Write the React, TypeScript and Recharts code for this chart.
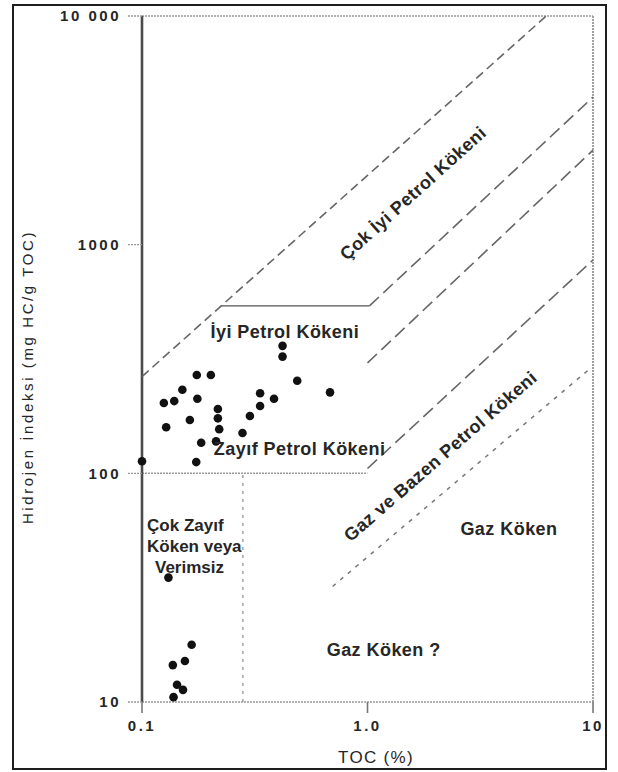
import React from 'react';
import { ScatterChart, Scatter, XAxis, YAxis, ReferenceLine } from 'recharts';

// Sample values: TOC (%) and Hydrogen Index (mg HC/g TOC)
const tocValues = [0.42, 0.42, 0.175, 0.202, 0.488, 0.151, 0.682, 0.334, 0.125, 0.139, 0.176, 0.385, 0.334, 0.217, 0.217, 0.163, 0.301, 0.128, 0.22, 0.279, 0.183, 0.213, 0.1, 0.174, 0.131, 0.166, 0.137, 0.155, 0.143, 0.152, 0.138];
const hiValues = [361, 324, 269, 269, 254, 232, 226, 224, 203, 207, 212, 212, 197, 191, 174, 171, 178, 159, 156, 150, 136, 138, 113, 112, 35, 17.8, 14.5, 15.1, 11.9, 11.3, 10.5];

const xTicks = [0.1, 1, 10];
const xTickLabels = ['0.1', '1.0', '10'];
const yTicks = [10, 100, 1000, 10000];
const yTickLabels = ['10', '100', '1000', '10 000'];

// Boundary lines (TOC, HI)
const veryGoodOilLine = [{ x: 0.1, y: 265 }, { x: 6.2, y: 10000 }];
const goodOilCap = [{ x: 0.225, y: 540 }, { x: 1.02, y: 540 }];
const upperOilLine = [{ x: 1.02, y: 540 }, { x: 10, y: 4420 }];
const oilLine = [{ x: 1.0, y: 304 }, { x: 10, y: 2590 }];
const oilGasLine = [{ x: 1.0, y: 105 }, { x: 10, y: 857 }];
const gasLine = [{ x: 0.7, y: 32 }, { x: 9.9, y: 292 }];
const poorLimitHI = 100;
const poorLimitToc = [0.1, 1.0];
const barrenToc = 0.28;

// Region labels
const labelTexts = ['Çok İyi Petrol Kökeni', 'İyi Petrol Kökeni', 'Zayıf Petrol Kökeni', 'Gaz ve Bazen Petrol Kökeni', 'Gaz Köken', 'Gaz Köken ?', 'Çok Zayıf', 'Köken veya', 'Verimsiz'];
const labelToc = [1.59, 0.43, 0.5, 2.1, 4.24, 1.18, 0.1053, 0.1053, 0.1142];
const labelHI = [1683, 415, 128, 119, 57.4, 16.9, 59.5, 48.2, 39.0];
const labelAngle = [-42, 0, 0, -41, 0, 0, 0, 0, 0];
const labelAnchor = ['middle', 'middle', 'middle', 'middle', 'middle', 'middle', 'start', 'start', 'start'];

const points = tocValues.map((t, i) => ({ x: t, y: hiValues[i] }));
const labels = labelTexts.map((text, i) => ({ x: labelToc[i], y: labelHI[i], text, angle: labelAngle[i], anchor: labelAnchor[i] }));

const FONT = '"Liberation Sans", Arial, sans-serif';
const TXT = '#262626';

const Dot = (p: any) => <circle cx={p.cx} cy={p.cy} r={4.3} fill="#111" />;
const NoShape = () => <g />;
const LabelShape = (p: any) => {
  const { cx, cy, payload } = p;
  return (
    <text
      x={cx}
      y={cy}
      dy="0.36em"
      textAnchor={payload.anchor}
      transform={payload.angle ? `rotate(${payload.angle} ${cx} ${cy})` : undefined}
      fontFamily={FONT}
      fontWeight="bold"
      fontSize={payload.anchor === 'start' ? 17 : 18}
      letterSpacing={payload.anchor === 'start' ? 0 : 0.45}
      fill={TXT}
    >
      {payload.text}
    </text>
  );
};

const lineStyle = (dash: string, color = '#666', w = 1.6) => ({ stroke: color, strokeWidth: w, strokeDasharray: dash });

export default function App() {
  return (
    <div style={{ position: 'absolute', left: 0, top: 0, width: 618, height: 772, background: '#fff' }}>
      <div style={{ position: 'absolute', left: 12, top: 4, width: 595, height: 766, border: '2px solid #1e1e1e', boxSizing: 'border-box' }} />
      <div style={{ position: 'absolute', left: 0, top: 0 }}>
        <ScatterChart width={618} height={772} margin={{ top: 16, right: 25, left: 0, bottom: 40 }}>
          <XAxis
            type="number"
            dataKey="x"
            scale="log"
            domain={[0.1, 10]}
            ticks={xTicks}
            tickFormatter={(v: number) => xTickLabels[xTicks.indexOf(v)]}
            height={30}
            tickSize={11}
            tickMargin={7}
            axisLine={{ stroke: '#999', strokeWidth: 1.5, strokeDasharray: '2 1' }}
            tickLine={{ stroke: '#777', strokeWidth: 1.6 }}
            tick={{ fontFamily: FONT, fontWeight: 'bold', fontSize: 15, fill: TXT, letterSpacing: 2.5 }}
            label={{
              content: () => (
                <text x={376} y={763} textAnchor="middle" fontFamily={FONT} fontSize={17} letterSpacing={1.3} fill={TXT}>
                  TOC (%)
                </text>
              ),
            }}
          />
          <YAxis
            type="number"
            dataKey="y"
            scale="log"
            domain={[10, 10000]}
            ticks={yTicks}
            tickFormatter={(v: number) => yTickLabels[yTicks.indexOf(v)]}
            width={142}
            tickSize={14}
            tickMargin={7}
            axisLine={{ stroke: '#4a4a4a', strokeWidth: 2.6 }}
            tickLine={{ stroke: '#999', strokeWidth: 1.4, strokeDasharray: '2 1' }}
            tick={{ fontFamily: FONT, fontWeight: 'bold', fontSize: 15, fill: TXT, letterSpacing: 2.5 }}
            label={{
              content: () => (
                <text x={33} y={377} transform="rotate(-90 33 377)" textAnchor="middle" fontFamily={FONT} fontSize={15} letterSpacing={2.6} fill={TXT}>
                  Hidrojen İndeksi (mg HC/g TOC)
                </text>
              ),
            }}
          />
          <ReferenceLine y={10000} stroke="#999" strokeWidth={1.6} strokeDasharray="2 1" />
          <ReferenceLine x={10} stroke="#999" strokeWidth={1.8} strokeDasharray="2 1" />
          <ReferenceLine
            segment={[{ x: poorLimitToc[0], y: poorLimitHI }, { x: poorLimitToc[1], y: poorLimitHI }]}
            stroke="#999"
            strokeWidth={1.5}
            strokeDasharray="2 1"
          />
          <ReferenceLine
            segment={[{ x: barrenToc, y: 10 }, { x: barrenToc, y: poorLimitHI }]}
            stroke="#aaa"
            strokeWidth={1.6}
            strokeDasharray="3 5"
          />
          <Scatter data={veryGoodOilLine} fill="#666" line={lineStyle('9 5')} shape={NoShape} isAnimationActive={false} />
          <Scatter data={goodOilCap} fill="#555" line={{ stroke: '#555', strokeWidth: 1.4 }} shape={NoShape} isAnimationActive={false} />
          <Scatter data={upperOilLine} fill="#666" line={lineStyle('13 6')} shape={NoShape} isAnimationActive={false} />
          <Scatter data={oilLine} fill="#666" line={lineStyle('13 6')} shape={NoShape} isAnimationActive={false} />
          <Scatter data={oilGasLine} fill="#666" line={lineStyle('13 6')} shape={NoShape} isAnimationActive={false} />
          <Scatter data={gasLine} fill="#777" line={lineStyle('4 6', '#777', 1.5)} shape={NoShape} isAnimationActive={false} />
          <Scatter data={points} fill="#111" shape={Dot} isAnimationActive={false} />
          <Scatter data={labels} fill="#222" shape={LabelShape} isAnimationActive={false} />
        </ScatterChart>
      </div>
    </div>
  );
}
